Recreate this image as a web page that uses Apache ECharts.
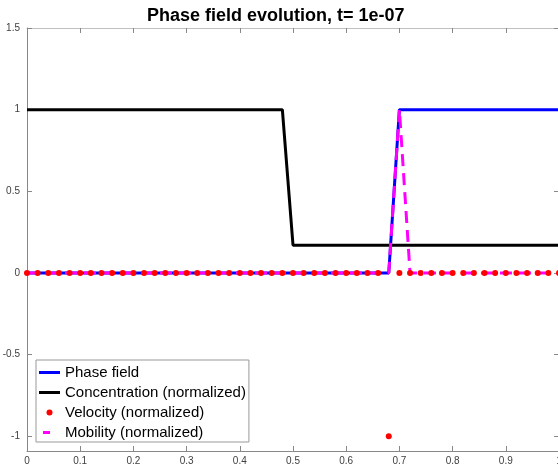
<!DOCTYPE html>
<html><head><meta charset="utf-8">
<script src="https://cdn.jsdelivr.net/npm/echarts@6/dist/echarts.min.js"></script>
<style>html,body{margin:0;padding:0;background:#fff}#c{width:558px;height:466px}</style>
</head><body><div id="c"></div>
<script>
const chartTitle = 'Phase field evolution, t= 1e-07';
const xValues = [0,0.02,0.04,0.06,0.08,0.1,0.12,0.14,0.16,0.18,0.2,0.22,0.24,0.26,0.28,0.3,0.32,0.34,0.36,0.38,0.4,0.42,0.44,0.46,0.48,0.5,0.52,0.54,0.56,0.58,0.6,0.62,0.64,0.66,0.68,0.7,0.72,0.74,0.76,0.78,0.8,0.82,0.84,0.86,0.88,0.9,0.92,0.94,0.96,0.98,1];
const phaseField = [0,0,0,0,0,0,0,0,0,0,0,0,0,0,0,0,0,0,0,0,0,0,0,0,0,0,0,0,0,0,0,0,0,0,0,1,1,1,1,1,1,1,1,1,1,1,1,1,1,1,1];
const concentration = [1,1,1,1,1,1,1,1,1,1,1,1,1,1,1,1,1,1,1,1,1,1,1,1,1,0.17,0.17,0.17,0.17,0.17,0.17,0.17,0.17,0.17,0.17,0.17,0.17,0.17,0.17,0.17,0.17,0.17,0.17,0.17,0.17,0.17,0.17,0.17,0.17,0.17,0.17];
const velocity = [0,0,0,0,0,0,0,0,0,0,0,0,0,0,0,0,0,0,0,0,0,0,0,0,0,0,0,0,0,0,0,0,0,0,-1,0,0,0,0,0,0,0,0,0,0,0,0,0,0,0,0];
const mobility = [0,0,0,0,0,0,0,0,0,0,0,0,0,0,0,0,0,0,0,0,0,0,0,0,0,0,0,0,0,0,0,0,0,0,0,1,0,0,0,0,0,0,0,0,0,0,0,0,0,0,0];
const xTicks = [0,0.1,0.2,0.3,0.4,0.5,0.6,0.7,0.8,0.9,1];
const yTicks = [-1,-0.5,0,0.5,1,1.5];
const seriesNames = ['Phase field','Concentration (normalized)','Velocity (normalized)','Mobility (normalized)'];

const pairs = arr => xValues.map((x, i) => [x, arr[i]]);
const font = 'Liberation Sans, Arial, sans-serif';
const axisColor = '#888';
function xAx(pos, showLabel, lineColor) {
  return {
    type: 'value', position: pos, min: 0, max: 1, interval: 0.1,
    axisLine: { show: true, onZero: false, lineStyle: { color: lineColor, width: 1 } },
    axisTick: { show: true, inside: true, length: 5, customValues: xTicks, lineStyle: { color: axisColor } },
    axisLabel: { show: showLabel, customValues: xTicks, color: '#404040', fontSize: 10, fontFamily: font, margin: 5 },
    splitLine: { show: false }
  };
}
function yAx(pos, showLabel) {
  return {
    type: 'value', position: pos, min: -1.09, max: 1.5,
    axisLine: { show: true, onZero: false, lineStyle: { color: axisColor, width: 1 } },
    axisTick: { show: true, inside: true, length: 5, customValues: yTicks, lineStyle: { color: axisColor } },
    axisLabel: { show: showLabel, customValues: yTicks, color: '#404040', fontSize: 10, fontFamily: font, margin: 7 },
    splitLine: { show: false }
  };
}
const lineIcon = 'path://M0,0 M21,14 M0,5.5 L21,5.5 L21,8.5 L0,8.5 Z';
const dashIcon = 'path://M0,0 M21,14 M4,5.5 L11,5.5 L11,8.5 L4,8.5 Z';
const dotIcon = 'path://M0,0 M21,14 M7.5,7 A3,3 0 1 1 13.5,7 A3,3 0 1 1 7.5,7 Z';
const chart = echarts.init(document.getElementById('c'), null, { renderer: 'canvas' });
chart.setOption({
  animation: false,
  backgroundColor: '#fff',
  title: { text: chartTitle, left: 142, top: 2, textStyle: { fontSize: 18, fontWeight: 'bold', color: '#000', fontFamily: font } },
  grid: { left: 27, top: 28, width: 532, height: 423, containLabel: false, outerBoundsMode: 'none' },
  xAxis: [xAx('bottom', true, axisColor), xAx('top', false, '#c0c0c0')],
  yAxis: [yAx('left', true), yAx('right', false)],
  legend: {
    orient: 'vertical', left: 36, top: 360, padding: [5, 3, 2, 3], itemGap: 5,
    itemWidth: 21, itemHeight: 14, backgroundColor: '#fff', borderColor: '#999', borderWidth: 1,
    selectedMode: false,
    textStyle: { fontSize: 15, color: '#000', fontFamily: font },
    data: [
      { name: seriesNames[0], icon: lineIcon },
      { name: seriesNames[1], icon: lineIcon },
      { name: seriesNames[2], icon: dotIcon },
      { name: seriesNames[3], icon: dashIcon }
    ]
  },
  series: [
    { name: seriesNames[0], type: 'line', data: pairs(phaseField), symbol: 'none', showSymbol: false,
      lineStyle: { color: '#0000ff', width: 3 }, itemStyle: { color: '#0000ff' }, z: 2 },
    { name: seriesNames[1], type: 'line', data: pairs(concentration), symbol: 'none', showSymbol: false,
      lineStyle: { color: '#000000', width: 3 }, itemStyle: { color: '#000000' }, z: 2 },
    { name: seriesNames[3], type: 'line', data: pairs(mobility), symbol: 'none', showSymbol: false,
      lineStyle: { color: '#ff00ff', width: 3, type: [12, 7] }, itemStyle: { color: '#ff00ff' }, z: 3 },
    { name: seriesNames[2], type: 'scatter', data: pairs(velocity), symbol: 'circle', symbolSize: 6,
      itemStyle: { color: '#ff0000', opacity: 1 }, z: 4 }
  ]
});
</script>
</body></html>
